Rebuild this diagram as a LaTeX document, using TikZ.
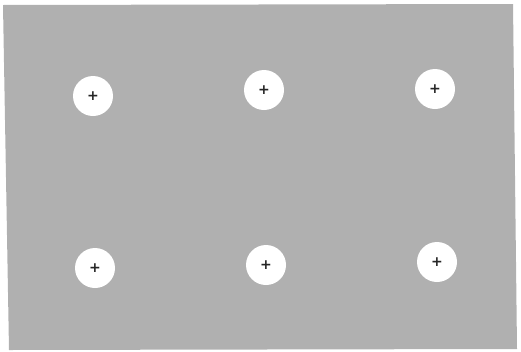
\documentclass[tikz,border=0pt]{standalone}
\usepackage{fontspec}
\newfontfamily\plusfont{DejaVu Sans}
\begin{document}
\begin{tikzpicture}[x=1pt,y=-1pt,
  hole/.style={circle,fill=white,draw=none,minimum size=40pt,inner sep=0pt,text=black!85,font=\plusfont\bfseries\fontsize{14}{14}\selectfont}]
\useasboundingbox (0,0) rectangle (521,351);
\definecolor{panel}{RGB}{176,176,176}
\fill[panel] (3,5) -- (513,4) -- (517,349) -- (9,350) -- cycle;
\node[hole] (h1) at (93,96) {+};
\node[hole] (h2) at (264,90) {+};
\node[hole] (h3) at (435,89) {+};
\node[hole] (h4) at (95,268) {+};
\node[hole] (h5) at (266,265) {+};
\node[hole] (h6) at (437,262) {+};
\end{tikzpicture}
\end{document}
